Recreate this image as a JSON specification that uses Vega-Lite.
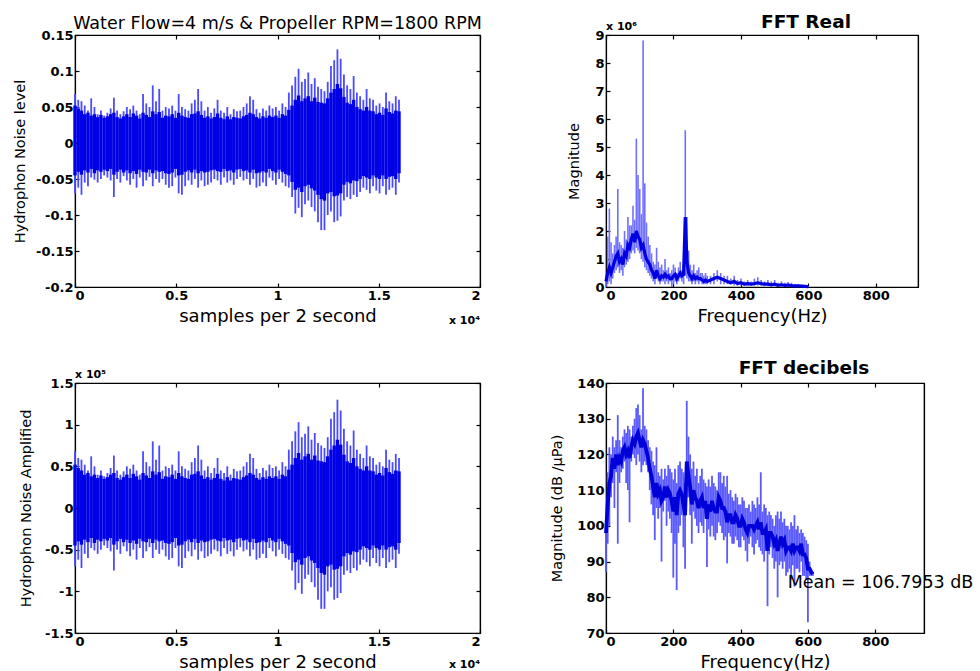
{
  "$schema": "https://vega.github.io/schema/vega-lite/v6.json",
  "background": "white",
  "padding": {"left": 11, "top": 11, "right": 0, "bottom": 0},
  "columns": 2,
  "spacing": {"row": 96, "column": 126},
  "bounds": "flush",
  "config": {
    "font": "DejaVu Sans",
    "view": {"stroke": "black", "strokeWidth": 1.2},
    "axis": {"grid": false, "domainColor": "black", "tickColor": "black", "labelColor": "black", "titleColor": "black", "labelFontSize": 13, "labelFontWeight": "bold", "titleFontWeight": "normal", "tickSize": -4, "labelPadding": 6, "domainWidth": 1.2, "tickWidth": 1.2},
    "axisX": {"titleFontSize": 18, "titlePadding": 5},
    "axisY": {"titleFontSize": 14.5},
    "title": {"color": "black", "font": "DejaVu Sans", "frame": "group"}
  },
  "datasets": {
    "ts": [
      {"s":0,"hi":0.068,"lo":-0.070,"ct":0.052,"cb":-0.045,"ahi":0.68,"alo":-0.70,"act":0.52,"acb":-0.45},
      {"s":160,"hi":0.060,"lo":-0.062,"ct":0.048,"cb":-0.040,"ahi":0.60,"alo":-0.62,"act":0.48,"acb":-0.40},
      {"s":320,"hi":0.058,"lo":-0.072,"ct":0.045,"cb":-0.044,"ahi":0.58,"alo":-0.72,"act":0.45,"acb":-0.44},
      {"s":480,"hi":0.052,"lo":-0.055,"ct":0.040,"cb":-0.038,"ahi":0.52,"alo":-0.55,"act":0.40,"acb":-0.38},
      {"s":640,"hi":0.045,"lo":-0.060,"ct":0.042,"cb":-0.041,"ahi":0.45,"alo":-0.60,"act":0.42,"acb":-0.41},
      {"s":800,"hi":0.062,"lo":-0.048,"ct":0.038,"cb":-0.036,"ahi":0.62,"alo":-0.48,"act":0.38,"acb":-0.36},
      {"s":960,"hi":0.050,"lo":-0.051,"ct":0.040,"cb":-0.042,"ahi":0.50,"alo":-0.51,"act":0.40,"acb":-0.42},
      {"s":1120,"hi":0.040,"lo":-0.055,"ct":0.036,"cb":-0.038,"ahi":0.40,"alo":-0.55,"act":0.36,"acb":-0.38},
      {"s":1280,"hi":0.045,"lo":-0.050,"ct":0.039,"cb":-0.040,"ahi":0.45,"alo":-0.50,"act":0.39,"acb":-0.40},
      {"s":1440,"hi":0.038,"lo":-0.045,"ct":0.035,"cb":-0.037,"ahi":0.38,"alo":-0.45,"act":0.35,"acb":-0.37},
      {"s":1600,"hi":0.042,"lo":-0.048,"ct":0.037,"cb":-0.039,"ahi":0.42,"alo":-0.48,"act":0.37,"acb":-0.39},
      {"s":1760,"hi":0.048,"lo":-0.052,"ct":0.040,"cb":-0.036,"ahi":0.48,"alo":-0.52,"act":0.40,"acb":-0.36},
      {"s":1920,"hi":0.063,"lo":-0.075,"ct":0.042,"cb":-0.044,"ahi":0.63,"alo":-0.75,"act":0.42,"acb":-0.44},
      {"s":2080,"hi":0.045,"lo":-0.050,"ct":0.036,"cb":-0.040,"ahi":0.45,"alo":-0.50,"act":0.36,"acb":-0.40},
      {"s":2240,"hi":0.040,"lo":-0.055,"ct":0.034,"cb":-0.037,"ahi":0.40,"alo":-0.55,"act":0.34,"acb":-0.37},
      {"s":2400,"hi":0.044,"lo":-0.046,"ct":0.037,"cb":-0.041,"ahi":0.44,"alo":-0.46,"act":0.37,"acb":-0.41},
      {"s":2560,"hi":0.050,"lo":-0.052,"ct":0.040,"cb":-0.038,"ahi":0.50,"alo":-0.52,"act":0.40,"acb":-0.38},
      {"s":2720,"hi":0.047,"lo":-0.058,"ct":0.036,"cb":-0.042,"ahi":0.47,"alo":-0.58,"act":0.36,"acb":-0.42},
      {"s":2880,"hi":0.052,"lo":-0.050,"ct":0.041,"cb":-0.039,"ahi":0.52,"alo":-0.50,"act":0.41,"acb":-0.39},
      {"s":3040,"hi":0.045,"lo":-0.062,"ct":0.038,"cb":-0.043,"ahi":0.45,"alo":-0.62,"act":0.38,"acb":-0.43},
      {"s":3200,"hi":0.040,"lo":-0.048,"ct":0.034,"cb":-0.037,"ahi":0.40,"alo":-0.48,"act":0.34,"acb":-0.37},
      {"s":3360,"hi":0.068,"lo":-0.060,"ct":0.042,"cb":-0.040,"ahi":0.68,"alo":-0.60,"act":0.42,"acb":-0.40},
      {"s":3520,"hi":0.055,"lo":-0.052,"ct":0.039,"cb":-0.041,"ahi":0.55,"alo":-0.52,"act":0.39,"acb":-0.41},
      {"s":3680,"hi":0.050,"lo":-0.047,"ct":0.036,"cb":-0.037,"ahi":0.50,"alo":-0.47,"act":0.36,"acb":-0.37},
      {"s":3840,"hi":0.080,"lo":-0.060,"ct":0.044,"cb":-0.042,"ahi":0.80,"alo":-0.60,"act":0.44,"acb":-0.42},
      {"s":4000,"hi":0.058,"lo":-0.050,"ct":0.040,"cb":-0.038,"ahi":0.58,"alo":-0.50,"act":0.40,"acb":-0.38},
      {"s":4160,"hi":0.075,"lo":-0.055,"ct":0.043,"cb":-0.040,"ahi":0.75,"alo":-0.55,"act":0.43,"acb":-0.40},
      {"s":4320,"hi":0.045,"lo":-0.050,"ct":0.035,"cb":-0.039,"ahi":0.45,"alo":-0.50,"act":0.35,"acb":-0.39},
      {"s":4480,"hi":0.050,"lo":-0.058,"ct":0.038,"cb":-0.042,"ahi":0.50,"alo":-0.58,"act":0.38,"acb":-0.42},
      {"s":4640,"hi":0.048,"lo":-0.062,"ct":0.037,"cb":-0.043,"ahi":0.48,"alo":-0.62,"act":0.37,"acb":-0.43},
      {"s":4800,"hi":0.052,"lo":-0.060,"ct":0.040,"cb":-0.041,"ahi":0.52,"alo":-0.60,"act":0.40,"acb":-0.41},
      {"s":4960,"hi":0.045,"lo":-0.048,"ct":0.035,"cb":-0.036,"ahi":0.45,"alo":-0.48,"act":0.35,"acb":-0.36},
      {"s":5120,"hi":0.068,"lo":-0.070,"ct":0.042,"cb":-0.045,"ahi":0.68,"alo":-0.70,"act":0.42,"acb":-0.45},
      {"s":5280,"hi":0.050,"lo":-0.072,"ct":0.038,"cb":-0.044,"ahi":0.50,"alo":-0.72,"act":0.38,"acb":-0.44},
      {"s":5440,"hi":0.047,"lo":-0.060,"ct":0.036,"cb":-0.040,"ahi":0.47,"alo":-0.60,"act":0.36,"acb":-0.40},
      {"s":5600,"hi":0.045,"lo":-0.052,"ct":0.035,"cb":-0.038,"ahi":0.45,"alo":-0.52,"act":0.35,"acb":-0.38},
      {"s":5760,"hi":0.055,"lo":-0.058,"ct":0.040,"cb":-0.041,"ahi":0.55,"alo":-0.58,"act":0.40,"acb":-0.41},
      {"s":5920,"hi":0.060,"lo":-0.050,"ct":0.041,"cb":-0.037,"ahi":0.60,"alo":-0.50,"act":0.41,"acb":-0.37},
      {"s":6080,"hi":0.075,"lo":-0.062,"ct":0.044,"cb":-0.042,"ahi":0.75,"alo":-0.62,"act":0.44,"acb":-0.42},
      {"s":6240,"hi":0.058,"lo":-0.052,"ct":0.039,"cb":-0.039,"ahi":0.58,"alo":-0.52,"act":0.39,"acb":-0.39},
      {"s":6400,"hi":0.045,"lo":-0.060,"ct":0.035,"cb":-0.041,"ahi":0.45,"alo":-0.60,"act":0.35,"acb":-0.41},
      {"s":6560,"hi":0.050,"lo":-0.058,"ct":0.037,"cb":-0.040,"ahi":0.50,"alo":-0.58,"act":0.37,"acb":-0.40},
      {"s":6720,"hi":0.042,"lo":-0.055,"ct":0.034,"cb":-0.038,"ahi":0.42,"alo":-0.55,"act":0.34,"acb":-0.38},
      {"s":6880,"hi":0.048,"lo":-0.050,"ct":0.036,"cb":-0.037,"ahi":0.48,"alo":-0.50,"act":0.36,"acb":-0.37},
      {"s":7040,"hi":0.060,"lo":-0.052,"ct":0.041,"cb":-0.039,"ahi":0.60,"alo":-0.52,"act":0.41,"acb":-0.39},
      {"s":7200,"hi":0.045,"lo":-0.058,"ct":0.035,"cb":-0.040,"ahi":0.45,"alo":-0.58,"act":0.35,"acb":-0.40},
      {"s":7360,"hi":0.042,"lo":-0.048,"ct":0.033,"cb":-0.036,"ahi":0.42,"alo":-0.48,"act":0.33,"acb":-0.36},
      {"s":7520,"hi":0.050,"lo":-0.055,"ct":0.037,"cb":-0.039,"ahi":0.50,"alo":-0.55,"act":0.37,"acb":-0.39},
      {"s":7680,"hi":0.040,"lo":-0.052,"ct":0.033,"cb":-0.038,"ahi":0.40,"alo":-0.52,"act":0.33,"acb":-0.38},
      {"s":7840,"hi":0.047,"lo":-0.058,"ct":0.036,"cb":-0.041,"ahi":0.47,"alo":-0.58,"act":0.36,"acb":-0.41},
      {"s":8000,"hi":0.044,"lo":-0.050,"ct":0.035,"cb":-0.037,"ahi":0.44,"alo":-0.50,"act":0.35,"acb":-0.37},
      {"s":8160,"hi":0.045,"lo":-0.047,"ct":0.034,"cb":-0.036,"ahi":0.45,"alo":-0.47,"act":0.34,"acb":-0.36},
      {"s":8320,"hi":0.050,"lo":-0.052,"ct":0.037,"cb":-0.039,"ahi":0.50,"alo":-0.52,"act":0.37,"acb":-0.39},
      {"s":8480,"hi":0.055,"lo":-0.050,"ct":0.039,"cb":-0.038,"ahi":0.55,"alo":-0.50,"act":0.39,"acb":-0.38},
      {"s":8640,"hi":0.065,"lo":-0.058,"ct":0.042,"cb":-0.041,"ahi":0.65,"alo":-0.58,"act":0.42,"acb":-0.41},
      {"s":8800,"hi":0.060,"lo":-0.050,"ct":0.040,"cb":-0.037,"ahi":0.60,"alo":-0.50,"act":0.40,"acb":-0.37},
      {"s":8960,"hi":0.047,"lo":-0.062,"ct":0.036,"cb":-0.042,"ahi":0.47,"alo":-0.62,"act":0.36,"acb":-0.42},
      {"s":9120,"hi":0.042,"lo":-0.060,"ct":0.034,"cb":-0.041,"ahi":0.42,"alo":-0.60,"act":0.34,"acb":-0.41},
      {"s":9280,"hi":0.048,"lo":-0.055,"ct":0.037,"cb":-0.039,"ahi":0.48,"alo":-0.55,"act":0.37,"acb":-0.39},
      {"s":9440,"hi":0.045,"lo":-0.060,"ct":0.035,"cb":-0.041,"ahi":0.45,"alo":-0.60,"act":0.35,"acb":-0.41},
      {"s":9600,"hi":0.052,"lo":-0.048,"ct":0.038,"cb":-0.036,"ahi":0.52,"alo":-0.48,"act":0.38,"acb":-0.36},
      {"s":9760,"hi":0.048,"lo":-0.052,"ct":0.036,"cb":-0.039,"ahi":0.48,"alo":-0.52,"act":0.36,"acb":-0.39},
      {"s":9920,"hi":0.050,"lo":-0.058,"ct":0.038,"cb":-0.041,"ahi":0.50,"alo":-0.58,"act":0.38,"acb":-0.41},
      {"s":10080,"hi":0.045,"lo":-0.050,"ct":0.035,"cb":-0.037,"ahi":0.45,"alo":-0.50,"act":0.35,"acb":-0.37},
      {"s":10240,"hi":0.055,"lo":-0.055,"ct":0.040,"cb":-0.040,"ahi":0.55,"alo":-0.55,"act":0.40,"acb":-0.40},
      {"s":10400,"hi":0.050,"lo":-0.060,"ct":0.038,"cb":-0.043,"ahi":0.50,"alo":-0.60,"act":0.38,"acb":-0.43},
      {"s":10560,"hi":0.070,"lo":-0.062,"ct":0.046,"cb":-0.045,"ahi":0.70,"alo":-0.62,"act":0.46,"acb":-0.45},
      {"s":10720,"hi":0.080,"lo":-0.075,"ct":0.052,"cb":-0.054,"ahi":0.80,"alo":-0.75,"act":0.52,"acb":-0.54},
      {"s":10880,"hi":0.092,"lo":-0.098,"ct":0.060,"cb":-0.065,"ahi":0.92,"alo":-0.98,"act":0.60,"acb":-0.65},
      {"s":11040,"hi":0.103,"lo":-0.090,"ct":0.066,"cb":-0.062,"ahi":1.03,"alo":-0.90,"act":0.66,"acb":-0.62},
      {"s":11200,"hi":0.085,"lo":-0.103,"ct":0.058,"cb":-0.068,"ahi":0.85,"alo":-1.03,"act":0.58,"acb":-0.68},
      {"s":11360,"hi":0.089,"lo":-0.085,"ct":0.062,"cb":-0.060,"ahi":0.89,"alo":-0.85,"act":0.62,"acb":-0.60},
      {"s":11520,"hi":0.098,"lo":-0.080,"ct":0.065,"cb":-0.058,"ahi":0.98,"alo":-0.80,"act":0.65,"acb":-0.58},
      {"s":11680,"hi":0.082,"lo":-0.089,"ct":0.058,"cb":-0.063,"ahi":0.82,"alo":-0.89,"act":0.58,"acb":-0.63},
      {"s":11840,"hi":0.090,"lo":-0.095,"ct":0.063,"cb":-0.066,"ahi":0.90,"alo":-0.95,"act":0.63,"acb":-0.66},
      {"s":12000,"hi":0.078,"lo":-0.110,"ct":0.057,"cb":-0.072,"ahi":0.78,"alo":-1.10,"act":0.57,"acb":-0.72},
      {"s":12160,"hi":0.075,"lo":-0.121,"ct":0.056,"cb":-0.078,"ahi":0.75,"alo":-1.21,"act":0.56,"acb":-0.78},
      {"s":12320,"hi":0.072,"lo":-0.121,"ct":0.055,"cb":-0.080,"ahi":0.72,"alo":-1.21,"act":0.55,"acb":-0.80},
      {"s":12480,"hi":0.085,"lo":-0.100,"ct":0.062,"cb":-0.070,"ahi":0.85,"alo":-1.00,"act":0.62,"acb":-0.70},
      {"s":12640,"hi":0.107,"lo":-0.095,"ct":0.070,"cb":-0.068,"ahi":1.07,"alo":-0.95,"act":0.70,"acb":-0.68},
      {"s":12800,"hi":0.115,"lo":-0.110,"ct":0.075,"cb":-0.074,"ahi":1.15,"alo":-1.10,"act":0.75,"acb":-0.74},
      {"s":12960,"hi":0.130,"lo":-0.108,"ct":0.082,"cb":-0.073,"ahi":1.30,"alo":-1.08,"act":0.82,"acb":-0.73},
      {"s":13120,"hi":0.117,"lo":-0.102,"ct":0.076,"cb":-0.070,"ahi":1.17,"alo":-1.02,"act":0.76,"acb":-0.70},
      {"s":13280,"hi":0.095,"lo":-0.080,"ct":0.064,"cb":-0.058,"ahi":0.95,"alo":-0.80,"act":0.64,"acb":-0.58},
      {"s":13440,"hi":0.080,"lo":-0.075,"ct":0.056,"cb":-0.054,"ahi":0.80,"alo":-0.75,"act":0.56,"acb":-0.54},
      {"s":13600,"hi":0.075,"lo":-0.078,"ct":0.054,"cb":-0.056,"ahi":0.75,"alo":-0.78,"act":0.54,"acb":-0.56},
      {"s":13760,"hi":0.093,"lo":-0.072,"ct":0.060,"cb":-0.052,"ahi":0.93,"alo":-0.72,"act":0.60,"acb":-0.52},
      {"s":13920,"hi":0.070,"lo":-0.075,"ct":0.050,"cb":-0.053,"ahi":0.70,"alo":-0.75,"act":0.50,"acb":-0.53},
      {"s":14080,"hi":0.065,"lo":-0.068,"ct":0.047,"cb":-0.050,"ahi":0.65,"alo":-0.68,"act":0.47,"acb":-0.50},
      {"s":14240,"hi":0.060,"lo":-0.062,"ct":0.045,"cb":-0.046,"ahi":0.60,"alo":-0.62,"act":0.45,"acb":-0.46},
      {"s":14400,"hi":0.075,"lo":-0.065,"ct":0.050,"cb":-0.048,"ahi":0.75,"alo":-0.65,"act":0.50,"acb":-0.48},
      {"s":14560,"hi":0.062,"lo":-0.070,"ct":0.045,"cb":-0.050,"ahi":0.62,"alo":-0.70,"act":0.45,"acb":-0.50},
      {"s":14720,"hi":0.060,"lo":-0.060,"ct":0.044,"cb":-0.045,"ahi":0.60,"alo":-0.60,"act":0.44,"acb":-0.45},
      {"s":14880,"hi":0.052,"lo":-0.066,"ct":0.040,"cb":-0.048,"ahi":0.52,"alo":-0.66,"act":0.40,"acb":-0.48},
      {"s":15040,"hi":0.055,"lo":-0.070,"ct":0.042,"cb":-0.050,"ahi":0.55,"alo":-0.70,"act":0.42,"acb":-0.50},
      {"s":15200,"hi":0.050,"lo":-0.060,"ct":0.039,"cb":-0.045,"ahi":0.50,"alo":-0.60,"act":0.39,"acb":-0.45},
      {"s":15360,"hi":0.070,"lo":-0.072,"ct":0.048,"cb":-0.050,"ahi":0.70,"alo":-0.72,"act":0.48,"acb":-0.50},
      {"s":15520,"hi":0.058,"lo":-0.065,"ct":0.043,"cb":-0.047,"ahi":0.58,"alo":-0.65,"act":0.43,"acb":-0.47},
      {"s":15680,"hi":0.055,"lo":-0.062,"ct":0.041,"cb":-0.046,"ahi":0.55,"alo":-0.62,"act":0.41,"acb":-0.46},
      {"s":15840,"hi":0.065,"lo":-0.072,"ct":0.045,"cb":-0.050,"ahi":0.65,"alo":-0.72,"act":0.45,"acb":-0.50},
      {"s":16000,"hi":0.060,"lo":-0.055,"ct":0.044,"cb":-0.042,"ahi":0.60,"alo":-0.55,"act":0.44,"acb":-0.42}
    ],
    "fft": [
      {"f":0,"lo":0,"hi":0.4,"m":0.2},{"f":5,"lo":0.1,"hi":1.8,"m":0.5},{"f":10,"lo":0.2,"hi":2.8,"m":0.7},{"f":15,"lo":0.1,"hi":1.6,"m":0.5},
      {"f":20,"lo":0.3,"hi":1.2,"m":0.7},{"f":25,"lo":0.5,"hi":1.5,"m":0.9},{"f":30,"lo":0.6,"hi":1.8,"m":1.1},{"f":35,"lo":0.7,"hi":3.5,"m":1.2},
      {"f":40,"lo":0.5,"hi":1.6,"m":0.9},{"f":45,"lo":0.6,"hi":1.5,"m":1.0},{"f":50,"lo":0.4,"hi":1.4,"m":0.8},{"f":55,"lo":0.7,"hi":2.0,"m":1.2},
      {"f":60,"lo":0.8,"hi":1.7,"m":1.1},{"f":65,"lo":0.9,"hi":2.5,"m":1.5},{"f":70,"lo":1.0,"hi":2.2,"m":1.4},{"f":75,"lo":1.2,"hi":2.2,"m":1.7},
      {"f":80,"lo":1.3,"hi":2.9,"m":1.9},{"f":85,"lo":1.2,"hi":2.4,"m":1.6},{"f":90,"lo":1.4,"hi":5.3,"m":2.0},{"f":95,"lo":1.3,"hi":4.0,"m":1.8},
      {"f":100,"lo":1.2,"hi":3.5,"m":1.7},{"f":105,"lo":1.0,"hi":2.6,"m":1.4},{"f":110,"lo":0.9,"hi":8.8,"m":1.5},{"f":115,"lo":0.7,"hi":3.7,"m":1.2},
      {"f":120,"lo":0.6,"hi":2.3,"m":1.0},{"f":125,"lo":0.5,"hi":1.8,"m":0.9},{"f":130,"lo":0.4,"hi":1.5,"m":0.8},{"f":135,"lo":0.3,"hi":1.2,"m":0.6},
      {"f":140,"lo":0.2,"hi":0.9,"m":0.5},{"f":145,"lo":0.1,"hi":0.8,"m":0.3},{"f":150,"lo":0.3,"hi":1.4,"m":0.6},{"f":155,"lo":0.2,"hi":0.9,"m":0.4},
      {"f":160,"lo":0.1,"hi":0.7,"m":0.3},{"f":165,"lo":0.2,"hi":0.8,"m":0.4},{"f":170,"lo":0.2,"hi":0.6,"m":0.35},{"f":175,"lo":0.1,"hi":1.0,"m":0.45},
      {"f":180,"lo":0.2,"hi":0.6,"m":0.35},{"f":185,"lo":0.1,"hi":0.7,"m":0.4},{"f":190,"lo":0.2,"hi":0.5,"m":0.3},{"f":195,"lo":0.0,"hi":0.6,"m":0.3},
      {"f":200,"lo":0.1,"hi":0.8,"m":0.4},{"f":205,"lo":0.2,"hi":0.7,"m":0.45},{"f":210,"lo":0.1,"hi":0.5,"m":0.3},{"f":215,"lo":0.2,"hi":0.7,"m":0.4},
      {"f":220,"lo":0.3,"hi":0.9,"m":0.5},{"f":225,"lo":0.2,"hi":0.6,"m":0.4},{"f":230,"lo":0.1,"hi":0.8,"m":0.45},{"f":235,"lo":0.4,"hi":5.6,"m":2.5},
      {"f":240,"lo":0.3,"hi":2.5,"m":0.9},{"f":245,"lo":0.2,"hi":1.3,"m":0.5},{"f":250,"lo":0.2,"hi":0.8,"m":0.4},{"f":255,"lo":0.1,"hi":0.6,"m":0.3},
      {"f":260,"lo":0.2,"hi":0.8,"m":0.4},{"f":265,"lo":0.1,"hi":0.5,"m":0.3},{"f":270,"lo":0.2,"hi":0.6,"m":0.35},{"f":275,"lo":0.1,"hi":0.7,"m":0.3},
      {"f":280,"lo":0.2,"hi":0.5,"m":0.3},{"f":285,"lo":0.1,"hi":0.5,"m":0.25},{"f":290,"lo":0.1,"hi":0.4,"m":0.2},{"f":295,"lo":0.1,"hi":0.5,"m":0.25},
      {"f":300,"lo":0.1,"hi":0.4,"m":0.2},{"f":310,"lo":0.1,"hi":0.4,"m":0.25},{"f":320,"lo":0.1,"hi":0.5,"m":0.3},{"f":330,"lo":0.2,"hi":0.6,"m":0.35},
      {"f":340,"lo":0.1,"hi":0.5,"m":0.3},{"f":350,"lo":0.1,"hi":0.4,"m":0.25},{"f":360,"lo":0.1,"hi":0.4,"m":0.2},{"f":370,"lo":0.1,"hi":0.3,"m":0.15},
      {"f":380,"lo":0.05,"hi":0.4,"m":0.2},{"f":390,"lo":0.05,"hi":0.25,"m":0.12},{"f":400,"lo":0.05,"hi":0.3,"m":0.15},{"f":410,"lo":0.05,"hi":0.2,"m":0.1},
      {"f":420,"lo":0.05,"hi":0.25,"m":0.12},{"f":430,"lo":0.05,"hi":0.2,"m":0.1},{"f":440,"lo":0.05,"hi":0.3,"m":0.12},{"f":450,"lo":0.05,"hi":0.35,"m":0.15},
      {"f":460,"lo":0.05,"hi":0.25,"m":0.12},{"f":470,"lo":0.05,"hi":0.2,"m":0.1},{"f":480,"lo":0.05,"hi":0.25,"m":0.1},{"f":490,"lo":0.05,"hi":0.2,"m":0.08},
      {"f":500,"lo":0.03,"hi":0.25,"m":0.1},{"f":510,"lo":0.03,"hi":0.15,"m":0.06},{"f":520,"lo":0.03,"hi":0.2,"m":0.08},{"f":530,"lo":0.02,"hi":0.15,"m":0.06},
      {"f":540,"lo":0.02,"hi":0.18,"m":0.07},{"f":550,"lo":0.02,"hi":0.15,"m":0.05},{"f":560,"lo":0.02,"hi":0.1,"m":0.04},{"f":570,"lo":0.01,"hi":0.1,"m":0.04},
      {"f":580,"lo":0.01,"hi":0.08,"m":0.03},{"f":590,"lo":0.01,"hi":0.06,"m":0.02},{"f":600,"lo":0,"hi":0.04,"m":0.01}
    ],
    "db": [
      {"f":0,"lo":87,"hi":102,"m":98},{"f":5,"lo":95,"hi":115,"m":106},{"f":10,"lo":100,"hi":122,"m":112},{"f":15,"lo":108,"hi":120,"m":114},
      {"f":20,"lo":112,"hi":125,"m":119},{"f":25,"lo":105,"hi":122,"m":116},{"f":30,"lo":115,"hi":124,"m":120},{"f":35,"lo":95,"hi":131,"m":117},
      {"f":40,"lo":112,"hi":124,"m":119},{"f":45,"lo":115,"hi":122,"m":118},{"f":50,"lo":116,"hi":125,"m":121},{"f":55,"lo":118,"hi":127,"m":122},
      {"f":60,"lo":112,"hi":126,"m":120},{"f":65,"lo":110,"hi":128,"m":121},{"f":70,"lo":101,"hi":127,"m":119},{"f":75,"lo":118,"hi":125,"m":122},
      {"f":80,"lo":120,"hi":128,"m":124},{"f":85,"lo":119,"hi":130,"m":123},{"f":90,"lo":117,"hi":133,"m":125},{"f":95,"lo":120,"hi":134,"m":126},
      {"f":100,"lo":118,"hi":131,"m":124},{"f":105,"lo":115,"hi":127,"m":122},{"f":110,"lo":117,"hi":138.5,"m":124},{"f":115,"lo":118,"hi":128,"m":123},
      {"f":120,"lo":117,"hi":127,"m":121},{"f":125,"lo":115,"hi":124,"m":119},{"f":130,"lo":110,"hi":122,"m":116},{"f":135,"lo":106,"hi":121,"m":114},
      {"f":140,"lo":103,"hi":118,"m":111},{"f":145,"lo":96,"hi":117,"m":108},{"f":150,"lo":105,"hi":122,"m":112},{"f":155,"lo":102,"hi":115,"m":109},
      {"f":160,"lo":105,"hi":114,"m":110},{"f":165,"lo":90,"hi":116,"m":107},{"f":170,"lo":104,"hi":113,"m":108},{"f":175,"lo":107,"hi":116,"m":111},
      {"f":180,"lo":100,"hi":114,"m":108},{"f":185,"lo":104,"hi":117,"m":110},{"f":190,"lo":102,"hi":116,"m":109},{"f":195,"lo":98,"hi":115,"m":107},
      {"f":200,"lo":85.5,"hi":113,"m":104},{"f":205,"lo":95,"hi":116,"m":108},{"f":210,"lo":82,"hi":112,"m":103},{"f":215,"lo":98,"hi":117,"m":109},
      {"f":220,"lo":100,"hi":118,"m":110},{"f":225,"lo":103,"hi":116,"m":109},{"f":230,"lo":94,"hi":115,"m":106},{"f":235,"lo":88,"hi":112,"m":103},
      {"f":240,"lo":108,"hi":135,"m":118},{"f":245,"lo":108,"hi":125,"m":114},{"f":250,"lo":103,"hi":120,"m":111},{"f":255,"lo":95,"hi":116,"m":106},
      {"f":260,"lo":104,"hi":118,"m":110},{"f":265,"lo":102,"hi":114,"m":108},{"f":270,"lo":100,"hi":116,"m":107},{"f":275,"lo":98,"hi":112,"m":105},
      {"f":280,"lo":101,"hi":114,"m":107},{"f":285,"lo":100,"hi":116,"m":108},{"f":290,"lo":98,"hi":113,"m":105},{"f":295,"lo":102,"hi":112,"m":107},
      {"f":300,"lo":88.5,"hi":111,"m":102},{"f":305,"lo":99,"hi":113,"m":106},{"f":310,"lo":97,"hi":111,"m":104},{"f":315,"lo":100,"hi":114,"m":107},
      {"f":320,"lo":97,"hi":112,"m":105},{"f":325,"lo":96,"hi":111,"m":104},{"f":330,"lo":98,"hi":110,"m":104},{"f":335,"lo":101,"hi":115,"m":108},
      {"f":340,"lo":100,"hi":115,"m":107},{"f":345,"lo":98,"hi":112,"m":105},{"f":350,"lo":96,"hi":114,"m":105},{"f":355,"lo":97,"hi":111,"m":104},
      {"f":360,"lo":89.5,"hi":114,"m":101},{"f":365,"lo":98,"hi":109,"m":103},{"f":370,"lo":97,"hi":110,"m":103},{"f":375,"lo":95,"hi":108,"m":101},
      {"f":380,"lo":95,"hi":107,"m":101},{"f":385,"lo":97,"hi":109,"m":103},{"f":390,"lo":96,"hi":108,"m":102},{"f":395,"lo":94,"hi":106,"m":100},
      {"f":400,"lo":94,"hi":106,"m":100},{"f":405,"lo":97,"hi":108,"m":102},{"f":410,"lo":96,"hi":107,"m":101},{"f":415,"lo":93,"hi":105,"m":99},
      {"f":420,"lo":90,"hi":105,"m":98},{"f":425,"lo":95,"hi":106,"m":100},{"f":430,"lo":97,"hi":104,"m":100},{"f":435,"lo":94,"hi":107,"m":100},
      {"f":440,"lo":92,"hi":106,"m":99},{"f":445,"lo":95,"hi":105,"m":100},{"f":450,"lo":96,"hi":108,"m":101},{"f":455,"lo":94,"hi":106,"m":99},
      {"f":460,"lo":93,"hi":115,"m":101},{"f":465,"lo":92,"hi":104,"m":98},{"f":470,"lo":90,"hi":106,"m":98},{"f":475,"lo":93,"hi":105,"m":99},
      {"f":480,"lo":77.5,"hi":103,"m":93},{"f":485,"lo":92,"hi":104,"m":98},{"f":490,"lo":94,"hi":103,"m":98},{"f":495,"lo":91,"hi":102,"m":97},
      {"f":500,"lo":88,"hi":100,"m":95},{"f":505,"lo":90,"hi":103,"m":96},{"f":510,"lo":80,"hi":104,"m":93},{"f":515,"lo":89,"hi":102,"m":95},
      {"f":520,"lo":90,"hi":104,"m":97},{"f":525,"lo":88,"hi":101,"m":95},{"f":530,"lo":90,"hi":102,"m":96},{"f":535,"lo":86,"hi":100,"m":93},
      {"f":540,"lo":87,"hi":100,"m":94},{"f":545,"lo":88,"hi":99,"m":94},{"f":550,"lo":85,"hi":101,"m":93},{"f":555,"lo":89,"hi":100,"m":95},
      {"f":560,"lo":83,"hi":103,"m":93},{"f":565,"lo":88,"hi":99,"m":94},{"f":570,"lo":88,"hi":100,"m":94},{"f":575,"lo":87,"hi":98,"m":93},
      {"f":580,"lo":90,"hi":99,"m":95},{"f":585,"lo":86,"hi":98,"m":92},{"f":590,"lo":86,"hi":97,"m":92},{"f":595,"lo":85,"hi":96,"m":91},
      {"f":600,"lo":73,"hi":95,"m":88},{"f":605,"lo":86,"hi":90,"m":88},{"f":610,"lo":86,"hi":88,"m":87},{"f":615,"lo":86,"hi":87,"m":86.5}
    ]
  },
  "concat": [
    {
      "width": 405, "height": 252,
      "title": {"text": "Water Flow=4 m/s  & Propeller RPM=1800 RPM", "fontSize": 17.5, "fontWeight": "normal", "offset": -3},
      "resolve": {"axis": {"x": "independent", "y": "independent"}},
      "layer": [
        {
          "data": {"name": "ts"},
          "mark": {"type": "rule", "color": "#4a4aff", "strokeWidth": 1.8},
          "encoding": {
            "x": {"field": "s", "type": "quantitative", "scale": {"domain": [0, 20000], "nice": false}, "axis": {"title": "samples per 2 second", "values": [0, 5000, 10000, 15000, 20000], "labelExpr": "datum.value / 10000"}},
            "y": {"field": "lo", "type": "quantitative", "scale": {"domain": [-0.2, 0.15], "nice": false}, "axis": {"title": "Hydrophon Noise level", "values": [-0.2, -0.15, -0.1, -0.05, 0, 0.05, 0.1, 0.15], "labelExpr": "replace(format(datum.value, '.2~f'), '\u2212', '-')", "titleX": -48}},
            "y2": {"field": "hi"}
          }
        },
        {
          "data": {"name": "ts"},
          "mark": {"type": "rule", "color": "#0000e6", "strokeWidth": 3.4},
          "encoding": {
            "x": {"field": "s", "type": "quantitative", "axis": null},
            "y": {"field": "cb", "type": "quantitative", "axis": null},
            "y2": {"field": "ct"}
          }
        },
        {
          "data": {"name": "ts"},
          "mark": {"type": "point", "opacity": 0},
          "encoding": {
            "x": {"field": "s", "type": "quantitative", "axis": {"orient": "top", "labels": false, "title": null, "values": [0, 5000, 10000, 15000, 20000]}},
            "y": {"field": "hi", "type": "quantitative", "axis": {"orient": "right", "labels": false, "title": null, "values": [-0.2, -0.15, -0.1, -0.05, 0, 0.05, 0.1, 0.15]}}
          }
        },
        {
          "data": {"values": [{"label": "x 10⁴"}]},
          "mark": {"type": "text", "align": "right", "baseline": "middle", "fontSize": 11, "fontWeight": "bold", "dy": 34, "color": "black"},
          "encoding": {
            "x": {"datum": 20000, "type": "quantitative", "axis": null},
            "y": {"datum": -0.2, "type": "quantitative", "axis": null},
            "text": {"field": "label"}
          }
        }
      ]
    },
    {
      "width": 312, "height": 252,
      "title": {"text": "FFT Real", "fontSize": 18.5, "fontWeight": "bold", "dx": 44, "offset": -10},
      "resolve": {"axis": {"x": "independent", "y": "independent"}},
      "layer": [
        {
          "data": {"name": "fft"},
          "mark": {"type": "rule", "color": "#7070ff", "strokeWidth": 1.6},
          "encoding": {
            "x": {"field": "f", "type": "quantitative", "scale": {"domain": [0, 925], "nice": false}, "axis": {"title": "Frequency(Hz)", "values": [0, 200, 400, 600, 800]}},
            "y": {"field": "lo", "type": "quantitative", "scale": {"domain": [0, 9], "nice": false}, "axis": {"title": "Magnitude", "values": [0, 1, 2, 3, 4, 5, 6, 7, 8, 9], "titleX": -25}},
            "y2": {"field": "hi"}
          }
        },
        {
          "data": {"name": "fft"},
          "mark": {"type": "line", "color": "#0000e0", "strokeWidth": 3.2},
          "encoding": {
            "x": {"field": "f", "type": "quantitative", "axis": null},
            "y": {"field": "m", "type": "quantitative", "axis": null}
          }
        },
        {
          "data": {"name": "fft"},
          "mark": {"type": "point", "opacity": 0},
          "encoding": {
            "x": {"field": "f", "type": "quantitative", "axis": {"orient": "top", "labels": false, "title": null, "values": [0, 200, 400, 600, 800]}},
            "y": {"field": "hi", "type": "quantitative", "axis": {"orient": "right", "labels": false, "title": null, "ticks": false}}
          }
        },
        {
          "data": {"values": [{"label": "x 10⁶"}]},
          "mark": {"type": "text", "align": "left", "baseline": "bottom", "fontSize": 11, "fontWeight": "bold", "dy": -3, "color": "black"},
          "encoding": {
            "x": {"datum": 0, "type": "quantitative", "axis": null},
            "y": {"datum": 9, "type": "quantitative", "axis": null},
            "text": {"field": "label"}
          }
        }
      ]
    },
    {
      "width": 405, "height": 250,
      "resolve": {"axis": {"x": "independent", "y": "independent"}},
      "layer": [
        {
          "data": {"name": "ts"},
          "mark": {"type": "rule", "color": "#4a4aff", "strokeWidth": 1.8},
          "encoding": {
            "x": {"field": "s", "type": "quantitative", "scale": {"domain": [0, 20000], "nice": false}, "axis": {"title": "samples per 2 second", "values": [0, 5000, 10000, 15000, 20000], "labelExpr": "datum.value / 10000"}},
            "y": {"field": "alo", "type": "quantitative", "scale": {"domain": [-1.5, 1.5], "nice": false}, "axis": {"title": "Hydrophon Noise Amplified", "values": [-1.5, -1, -0.5, 0, 0.5, 1, 1.5], "labelExpr": "replace(format(datum.value, '.1~f'), '\u2212', '-')", "titleX": -42}},
            "y2": {"field": "ahi"}
          }
        },
        {
          "data": {"name": "ts"},
          "mark": {"type": "rule", "color": "#0000e6", "strokeWidth": 3.4},
          "encoding": {
            "x": {"field": "s", "type": "quantitative", "axis": null},
            "y": {"field": "acb", "type": "quantitative", "axis": null},
            "y2": {"field": "act"}
          }
        },
        {
          "data": {"name": "ts"},
          "mark": {"type": "point", "opacity": 0},
          "encoding": {
            "x": {"field": "s", "type": "quantitative", "axis": {"orient": "top", "labels": false, "title": null, "values": [0, 5000, 10000, 15000, 20000]}},
            "y": {"field": "ahi", "type": "quantitative", "axis": {"orient": "right", "labels": false, "title": null, "values": [-1.5, -1, -0.5, 0, 0.5, 1, 1.5]}}
          }
        },
        {
          "data": {"values": [{"label": "x 10⁴"}]},
          "mark": {"type": "text", "align": "right", "baseline": "middle", "fontSize": 11, "fontWeight": "bold", "dy": 32, "color": "black"},
          "encoding": {
            "x": {"datum": 20000, "type": "quantitative", "axis": null},
            "y": {"datum": -1.5, "type": "quantitative", "axis": null},
            "text": {"field": "label"}
          }
        },
        {
          "data": {"values": [{"label": "x 10⁵"}]},
          "mark": {"type": "text", "align": "left", "baseline": "bottom", "fontSize": 11, "fontWeight": "bold", "dy": -3, "color": "black"},
          "encoding": {
            "x": {"datum": 0, "type": "quantitative", "axis": null},
            "y": {"datum": 1.5, "type": "quantitative", "axis": null},
            "text": {"field": "label"}
          }
        }
      ]
    },
    {
      "width": 318, "height": 250,
      "title": {"text": "FFT decibels", "fontSize": 18.5, "fontWeight": "bold", "dx": 39, "offset": 0},
      "resolve": {"axis": {"x": "independent", "y": "independent"}},
      "layer": [
        {
          "data": {"name": "db"},
          "mark": {"type": "rule", "color": "#5a5aff", "strokeWidth": 1.8},
          "encoding": {
            "x": {"field": "f", "type": "quantitative", "scale": {"domain": [0, 945], "nice": false}, "axis": {"title": "Frequency(Hz)", "values": [0, 200, 400, 600, 800]}},
            "y": {"field": "lo", "type": "quantitative", "scale": {"domain": [70, 140], "nice": false}, "axis": {"title": "Magnitude (dB /μPa)", "values": [70, 80, 90, 100, 110, 120, 130, 140], "titleX": -42}},
            "y2": {"field": "hi"}
          }
        },
        {
          "data": {"name": "db"},
          "mark": {"type": "line", "color": "#0000d8", "strokeWidth": 3.8},
          "encoding": {
            "x": {"field": "f", "type": "quantitative", "axis": null},
            "y": {"field": "m", "type": "quantitative", "axis": null}
          }
        },
        {
          "data": {"name": "db"},
          "mark": {"type": "point", "opacity": 0},
          "encoding": {
            "x": {"field": "f", "type": "quantitative", "axis": {"orient": "top", "labels": false, "title": null, "values": [0, 200, 400, 600, 800]}},
            "y": {"field": "hi", "type": "quantitative", "axis": {"orient": "right", "labels": false, "title": null, "ticks": false}}
          }
        },
        {
          "data": {"values": [{"label": "Mean =  106.7953  dB"}]},
          "mark": {"type": "text", "align": "left", "baseline": "middle", "fontSize": 17.5, "color": "black"},
          "encoding": {
            "x": {"datum": 540, "type": "quantitative", "axis": null},
            "y": {"datum": 84, "type": "quantitative", "axis": null},
            "text": {"field": "label"}
          }
        }
      ]
    }
  ]
}
